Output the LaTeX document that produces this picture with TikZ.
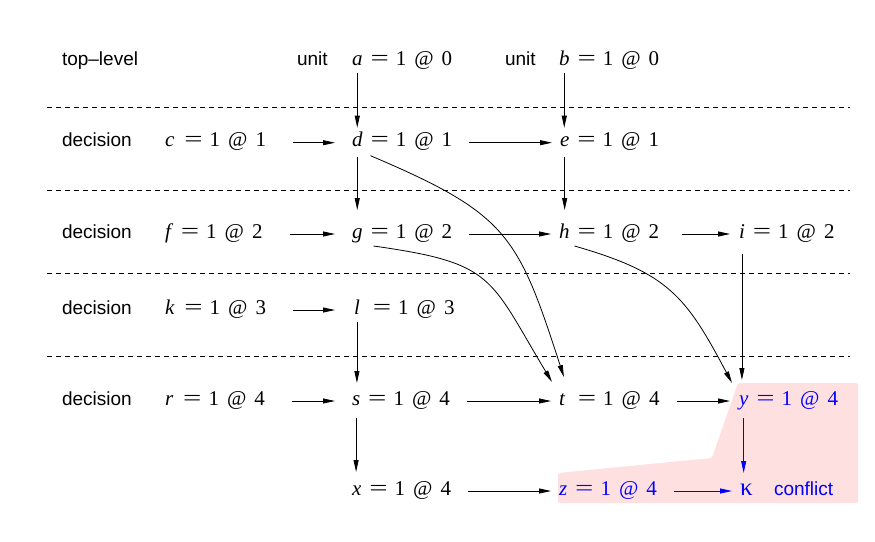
\documentclass[tikz,border=0pt]{standalone}
\usepackage{fontspec}
\setmainfont{Liberation Serif}
\newfontfamily\lsans{Liberation Sans}
\usepackage{graphicx}
\usetikzlibrary{arrows.meta}
\definecolor{pinkbg}{RGB}{255,224,224}
\definecolor{cblue}{RGB}{0,0,255}
\newcommand{\eqs}{\scalebox{1.55}[1.05]{=}}
\newcommand{\rst}[2][8pt]{\hspace{#1}\eqs\hspace{7pt}1\hspace{8pt}@\hspace{8pt}#2}
\begin{document}
\begin{tikzpicture}[x=1pt,y=-1pt,
  every node/.style={inner sep=0pt, outer sep=0pt, text height=12pt, text depth=4pt},
  var/.style={anchor=base west, font=\fontsize{21}{24}\selectfont\itshape},
  rest/.style={anchor=base west, font=\fontsize{21}{24}\selectfont},
  lbl/.style={anchor=base west, font=\fontsize{19}{22}\selectfont\lsans},
  arr/.style={-{Triangle[length=12pt,width=5pt]}, line width=0.8pt},
  sepline/.style={dash pattern=on 5pt off 4pt, line width=0.8pt},
  hl/.style={text=cblue},
  barr/.style={arr, draw=cblue, fill=cblue},
]
\useasboundingbox (0,0) rectangle (875,541);
% highlight region
\fill[pinkbg, rounded corners=2pt] (558,473) -- (712,458) -- (738,383) -- (858,383) -- (858,503) -- (558,503) -- cycle;
% separators
\foreach \yy in {107.5,190.5,273.3,356} \draw[sepline] (47,\yy) -- (850,\yy);
% row labels
\node[lbl] (L0) at (62,65) {top\textendash level};
\node[lbl] (L1) at (62,146.7) {decision};
\node[lbl] (L2) at (62,238) {decision};
\node[lbl] (L3) at (62,314) {decision};
\node[lbl] (L4) at (62,405) {decision};
\node[lbl] (ua) at (297,65) {unit};
\node[lbl] (ub) at (505,65) {unit};
% row 0
\node[var] (a) at (352,65) {a}; \node[rest] (ar) at (a.base east) {\rst{0}};
\node[var] (b) at (559,65) {b}; \node[rest] (br) at (b.base east) {\rst{0}};
% row 1
\node[var] (c) at (165,146.7) {c}; \node[rest] (cr) at (c.base east) {\rst[10pt]{1}};
\node[var] (d) at (352,146.7) {d}; \node[rest] (dr) at (d.base east) {\rst{1}};
\node[var] (e) at (560,146.7) {e}; \node[rest] (er) at (e.base east) {\rst{1}};
% row 2
\node[var] (f) at (165,238) {f}; \node[rest] (fr) at (f.base east) {\rst[10pt]{2}};
\node[var] (g) at (352,238) {g}; \node[rest] (gr) at (g.base east) {\rst{2}};
\node[var] (h) at (559,238) {h}; \node[rest] (hr) at (h.base east) {\rst{2}};
\node[var] (i) at (739,238) {i}; \node[rest] (ir) at (i.base east) {\rst{2}};
% row 3
\node[var] (k) at (165,314) {k}; \node[rest] (kr) at (k.base east) {\rst[10pt]{3}};
\node[var] (l) at (354,314) {l}; \node[rest] (lr) at (l.base east) {\rst[13pt]{3}};
% row 4
\node[var] (r) at (165,405) {r}; \node[rest] (rr) at (r.base east) {\rst[10pt]{4}};
\node[var] (s) at (352,405) {s}; \node[rest] (sr) at (s.base east) {\rst{4}};
\node[var] (t) at (559,405) {t}; \node[rest] (tr) at (t.base east) {\rst[13pt]{4}};
\node[var, hl] (y) at (739,405) {y}; \node[rest, hl] (yr) at (y.base east) {\rst{4}};
% row 5
\node[var] (x) at (352,495) {x}; \node[rest] (xr) at (x.base east) {\rst{4}};
\node[var, hl] (z) at (559,495) {z}; \node[rest, hl] (zr) at (z.base east) {\rst{4}};
\node[rest, hl, font=\fontsize{25}{28}\selectfont] (kap) at (740,495) {κ};
\node[lbl, hl] (conf) at (774,495) {conflict};
% vertical arrows
\draw[arr] ([yshift=-4pt]a.south) -- ([yshift=7pt]a.south |- d.north);
\draw[arr] ([yshift=-4pt]b.south) -- ([yshift=7pt]b.south |- e.north);
\draw[arr] ([yshift=-6pt]d.south) -- ([yshift=16pt]d.south |- g.north);
\draw[arr] ([yshift=-6pt]e.south) -- ([yshift=16pt]e.south |- h.north);
\draw[arr] ([yshift=-4pt]l.south) -- ([yshift=10pt]l.south |- s.north);
\draw[arr] ([yshift=-9pt]s.south) -- ([yshift=11pt]s.south |- x.north);
\draw[arr] ([yshift=-12pt]i.south) -- ([yshift=13pt]i.south |- y.north);
\draw[barr] ([yshift=-9pt]y.south) -- ([yshift=10pt]y.south |- kap.north);
% horizontal arrows
\draw[arr] ([xshift=27pt]cr.east) -- ([xshift=-17pt]d.west);
\draw[arr] ([xshift=17pt]dr.east) -- ([xshift=-8pt]e.west);
\draw[arr] ([xshift=27pt]fr.east) -- ([xshift=-17pt]g.west);
\draw[arr] ([xshift=17pt]gr.east) -- ([xshift=-8pt]h.west);
\draw[arr] ([xshift=23pt]hr.east) -- ([xshift=-9pt]i.west);
\draw[arr] ([xshift=27pt]kr.east) -- ([xshift=-19pt]l.west);
\draw[arr] ([xshift=27pt]rr.east) -- ([xshift=-17pt]s.west);
\draw[arr] ([xshift=17pt]sr.east) -- ([xshift=-8pt]t.west);
\draw[arr] ([xshift=17pt]tr.east) -- ([xshift=-9pt]y.west);
\draw[arr] ([xshift=17pt]xr.east) -- ([xshift=-8pt]z.west);
\draw[barr] ([xshift=17pt]zr.east) -- ([xshift=-8pt]kap.west);
% curved arrows
\draw[arr] ([xshift=8pt,yshift=-5pt]d.south east) to[out=-23,in=108,looseness=1.3] ([xshift=2pt,yshift=16pt]t.north);
\draw[arr] ([xshift=11pt,yshift=-4pt]g.south east) to[out=-8,in=121,looseness=1.4] ([xshift=-7pt,yshift=11pt]t.north west);
\draw[arr] ([xshift=5pt,yshift=-4pt]h.south east) to[out=-16,in=118,looseness=1.2] ([xshift=-7pt,yshift=10pt]y.north west);
\end{tikzpicture}
\end{document}
